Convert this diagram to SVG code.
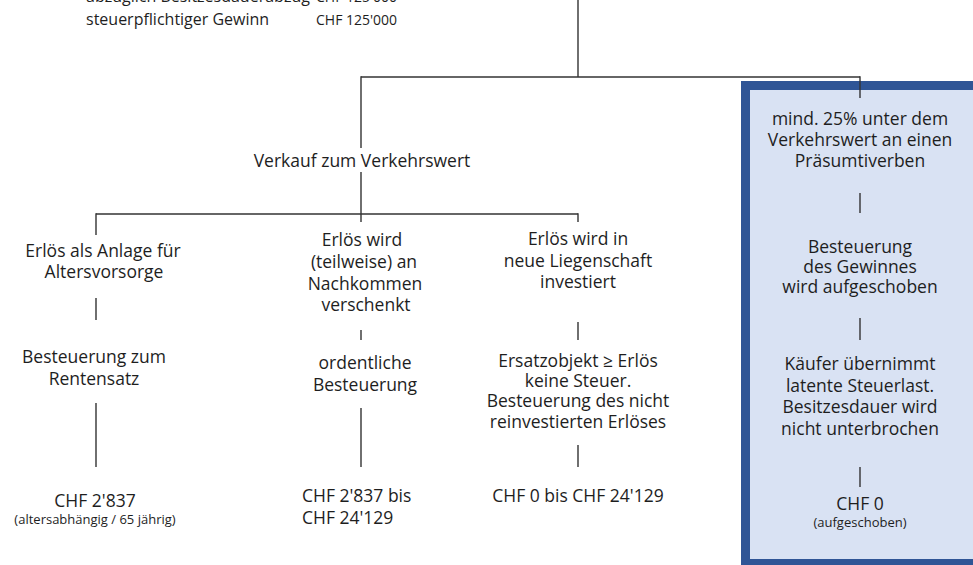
<svg xmlns="http://www.w3.org/2000/svg" width="973" height="565" viewBox="0 0 973 565">
<style>
text{font-family:"Open Sans","Noto Sans",sans-serif;fill:#1e1e1e;font-size:17.5px}
.c{text-anchor:middle}
.s{font-size:13px}
.m{font-size:14px}
.t{font-size:16px}
#connectors line{stroke:#333;stroke-width:1.4}
</style>
<rect width="973" height="565" fill="#fff"/>
<g id="box">
<rect x="741" y="81" width="240" height="490" fill="#2f5596"/>
<rect x="750" y="90" width="230" height="469" fill="#d9e2f3"/>
</g>
<g id="header">
<text class="t" x="86" y="2">abzüglich Besitzesdauerabzug</text>
<text class="m" x="316" y="2">CHF 125'000</text>
<text class="t" x="86" y="25">steuerpflichtiger Gewinn</text>
<text class="m" x="316" y="25">CHF 125'000</text>
</g>
<g id="connectors">
<line x1="578" y1="0" x2="578" y2="77"/>
<line x1="361" y1="77" x2="860" y2="77"/>
<line x1="361" y1="76.3" x2="361" y2="148"/>
<line x1="860" y1="76.3" x2="860" y2="98"/>
<line x1="361" y1="172" x2="361" y2="214"/>
<line x1="96" y1="214" x2="578" y2="214"/>
<line x1="96" y1="213.3" x2="96" y2="235"/>
<line x1="361" y1="214" x2="361" y2="222"/>
<line x1="578" y1="213.3" x2="578" y2="222"/>
<line x1="96" y1="298" x2="96" y2="320"/>
<line x1="96" y1="403" x2="96" y2="467"/>
<line x1="361" y1="330" x2="361" y2="340"/>
<line x1="361" y1="408" x2="361" y2="467"/>
<line x1="578" y1="322" x2="578" y2="340"/>
<line x1="578" y1="445" x2="578" y2="467"/>
<line x1="860" y1="193" x2="860" y2="213"/>
<line x1="860" y1="318" x2="860" y2="340"/>
<line x1="860" y1="467" x2="860" y2="487"/>
</g>
<g id="verkauf">
<text class="c" x="362" y="167">Verkauf zum Verkehrswert</text>
</g>
<g id="col1">
<text class="c" x="103" y="257">Erlös als Anlage für</text>
<text class="c" x="104" y="278">Altersvorsorge</text>
<text class="c" x="94" y="363">Besteuerung zum</text>
<text class="c" x="94" y="385">Rentensatz</text>
<text class="c" x="95" y="507">CHF 2'837</text>
<text class="c s" x="95" y="524">(altersabhängig / 65 jährig)</text>
</g>
<g id="col2">
<text class="c" x="362" y="246">Erlös wird</text>
<text class="c" x="364" y="268">(teilweise) an</text>
<text class="c" x="365" y="290">Nachkommen</text>
<text class="c" x="366" y="311">verschenkt</text>
<text class="c" x="365" y="369">ordentliche</text>
<text class="c" x="365" y="391">Besteuerung</text>
<text x="302" y="502">CHF 2'837 bis</text>
<text x="302" y="524">CHF 24'129</text>
</g>
<g id="col3">
<text class="c" x="578" y="245">Erlös wird in</text>
<text class="c" x="578" y="267">neue Liegenschaft</text>
<text class="c" x="578" y="288">investiert</text>
<text class="c" x="578" y="367">Ersatzobjekt ≥ Erlös</text>
<text class="c" x="578" y="387">keine Steuer.</text>
<text class="c" x="578" y="407">Besteuerung des nicht</text>
<text class="c" x="578" y="428">reinvestierten Erlöses</text>
<text class="c" x="578" y="502">CHF 0 bis CHF 24'129</text>
</g>
<g id="col4">
<text class="c" x="860" y="125">mind. 25% unter dem</text>
<text class="c" x="860" y="146">Verkehrswert an einen</text>
<text class="c" x="860" y="167">Präsumtiverben</text>
<text class="c" x="860" y="253">Besteuerung</text>
<text class="c" x="860" y="273">des Gewinnes</text>
<text class="c" x="860" y="293">wird aufgeschoben</text>
<text class="c" x="860" y="370">Käufer übernimmt</text>
<text class="c" x="860" y="392">latente Steuerlast.</text>
<text class="c" x="860" y="413">Besitzesdauer wird</text>
<text class="c" x="860" y="435">nicht unterbrochen</text>
<text class="c" x="860" y="510">CHF 0</text>
<text class="c s" x="860" y="527">(aufgeschoben)</text>
</g>
</svg>
